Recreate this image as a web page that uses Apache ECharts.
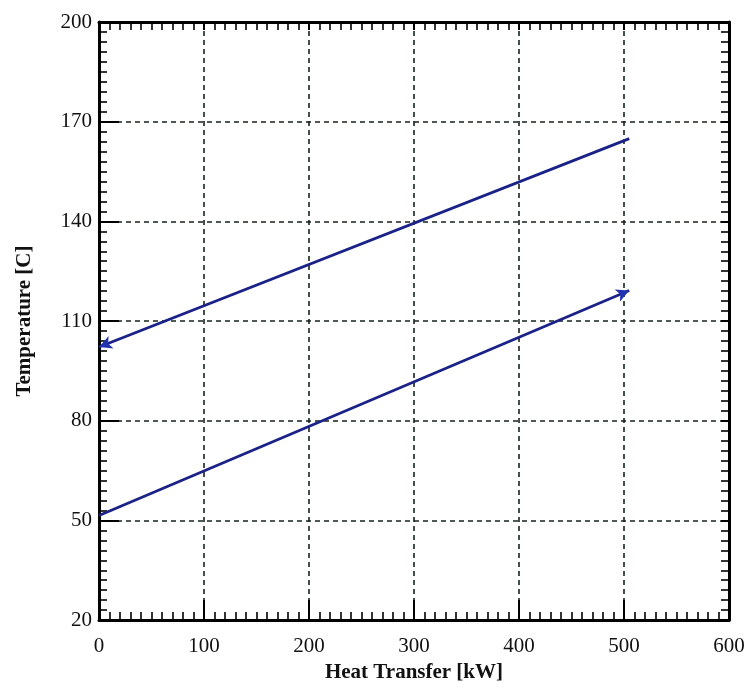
<!DOCTYPE html>
<html>
<head>
<meta charset="utf-8">
<script src="https://cdn.jsdelivr.net/npm/echarts@6/dist/echarts.min.js"></script>
<style>
  html, body { margin: 0; padding: 0; background: #ffffff; }
  #chart { width: 751px; height: 688px; }
</style>
</head>
<body>
<div id="chart"></div>
<script>
// Heat transfer duty (kW) at the ends of each stream line
const heatTransfer = [0, 505];
// Hot stream temperatures (C): arrow at the cold end (left)
const hotStream = [102.2, 164.9];
// Cold stream temperatures (C): arrow at the hot end (right)
const coldStream = [51.5, 119.2];

const xTicks = { min: 0, max: 600, interval: 100 };
const yTicks = { min: 20, max: 200, interval: 30 };

const lineColor = '#1a2288';
const fontFamily = '"Liberation Serif", "DejaVu Serif", serif';

const chart = echarts.init(document.getElementById('chart'), null, { renderer: 'canvas' });

function buildPoints(xs, ys, arrowIndex, rotate) {
  return xs.map((x, i) => {
    const item = { value: [x, ys[i]], symbol: 'none' };
    if (i === arrowIndex) {
      item.symbol = 'arrow';
      item.symbolSize = [10, 13];
      item.symbolRotate = rotate;
    }
    return item;
  });
}

// Angle of a segment on screen, used to point the arrow heads along the lines
function segmentAngle(xs, ys) {
  const plotW = 751 - 99 - 22, plotH = 688 - 22 - 65;
  const dx = (xs[1] - xs[0]) / (xTicks.max - xTicks.min) * plotW;
  const dy = (ys[1] - ys[0]) / (yTicks.max - yTicks.min) * plotH;
  return Math.atan2(dy, dx) * 180 / Math.PI;
}

const hotAngle = segmentAngle(heatTransfer, hotStream);
const coldAngle = segmentAngle(heatTransfer, coldStream);

const axisLine = { show: true, onZero: false, lineStyle: { color: '#000', width: 3 } };
const axisTick = { show: true, inside: true, length: 20, lineStyle: { color: '#000', width: 2 } };
const minorTick = { show: true, splitNumber: 10, length: 8, lineStyle: { color: '#000', width: 1.6 } };
const splitLine = { show: true, lineStyle: { color: '#14241a', width: 1.6, type: [5, 4] } };

const option = {
  backgroundColor: '#ffffff',
  animation: false,
  grid: { left: 99, right: 22, top: 22, bottom: 65, containLabel: false },
  xAxis: [
    {
      type: 'value', position: 'bottom', min: xTicks.min, max: xTicks.max, interval: xTicks.interval,
      axisLine, axisTick, minorTick, splitLine,
      axisLabel: { color: '#111', fontFamily, fontSize: 21, margin: 16 },
      name: 'Heat Transfer [kW]', nameLocation: 'middle', nameGap: 29,
      nameTextStyle: { color: '#111', fontFamily, fontSize: 21, fontWeight: 'bold' }
    },
    {
      type: 'value', position: 'top', min: xTicks.min, max: xTicks.max, interval: xTicks.interval,
      axisLine, axisTick: Object.assign({}, axisTick, { length: 8 }), minorTick,
      splitLine: { show: false }, axisLabel: { show: false }
    }
  ],
  yAxis: [
    {
      type: 'value', position: 'left', min: yTicks.min, max: yTicks.max, interval: yTicks.interval,
      axisLine, axisTick, minorTick, splitLine,
      axisLabel: { color: '#111', fontFamily, fontSize: 21, margin: 7 },
      name: 'Temperature [C]', nameLocation: 'middle', nameGap: 64, nameRotate: 90,
      nameTextStyle: { color: '#111', fontFamily, fontSize: 21, fontWeight: 'bold' }
    },
    {
      type: 'value', position: 'right', min: yTicks.min, max: yTicks.max, interval: yTicks.interval,
      axisLine, axisTick: Object.assign({}, axisTick, { length: 8 }), minorTick,
      splitLine: { show: false }, axisLabel: { show: false }
    }
  ],
  series: [
    {
      name: 'Hot stream', type: 'line', xAxisIndex: 0, yAxisIndex: 0,
      data: buildPoints(heatTransfer, hotStream, 0, hotAngle + 180 - 90),
      showSymbol: true, lineStyle: { color: lineColor, width: 2.8 },
      itemStyle: { color: '#2233b0' }
    },
    {
      name: 'Cold stream', type: 'line', xAxisIndex: 0, yAxisIndex: 0,
      data: buildPoints(heatTransfer, coldStream, 1, coldAngle - 90),
      showSymbol: true, lineStyle: { color: lineColor, width: 2.8 },
      itemStyle: { color: '#2233b0' }
    }
  ]
};

chart.setOption(option);
</script>
</body>
</html>
